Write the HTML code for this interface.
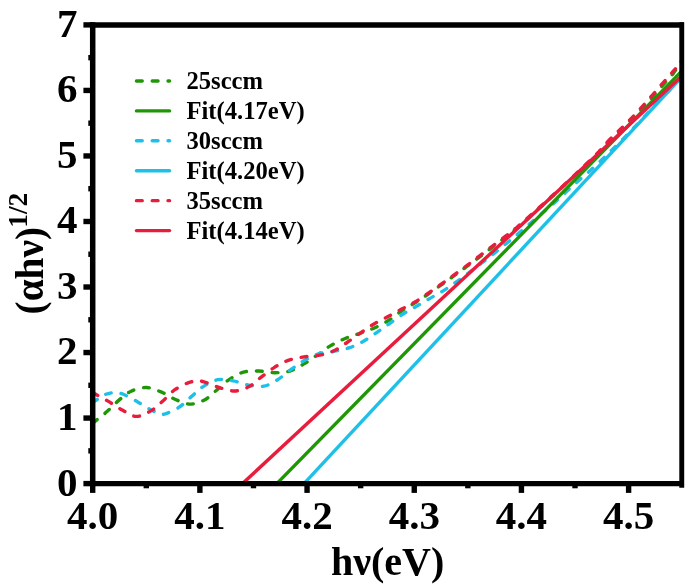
<!DOCTYPE html>
<html><head><meta charset="utf-8"><title>Tauc plot</title>
<style>
html,body{margin:0;padding:0;background:#fff;}
body{width:685px;height:586px;overflow:hidden;position:relative;font-family:"Liberation Serif",serif;}
</style></head><body>
<svg width="685" height="586" viewBox="0 0 685 586" style="position:absolute;left:0;top:0;will-change:transform">
<rect width="685" height="586" fill="#fff"/>
<defs><clipPath id="cp"><rect x="92.7" y="24.9" width="589.5" height="458.70000000000005"/></clipPath></defs>
<g clip-path="url(#cp)" fill="none">
<path d="M92.60 423.20C93.05 422.85 92.90 423.03 95.30 421.10C97.70 419.17 103.10 415.05 107.00 411.60C110.90 408.15 114.68 403.80 118.70 400.40C122.72 397.00 126.48 393.35 131.10 391.20C135.72 389.05 141.42 387.38 146.40 387.50C151.38 387.62 156.25 389.95 161.00 391.90C165.75 393.85 170.17 397.17 174.90 399.20C179.63 401.23 184.55 403.93 189.40 404.10C194.25 404.27 199.62 402.38 204.00 400.20C208.38 398.02 211.68 394.32 215.70 391.00C219.72 387.68 223.60 383.40 228.10 380.30C232.60 377.20 237.60 373.95 242.70 372.40C247.80 370.85 253.35 370.95 258.70 371.00C264.05 371.05 269.60 372.70 274.80 372.70C280.00 372.70 285.05 372.47 289.90 371.00C294.75 369.53 299.38 366.53 303.90 363.90C308.42 361.27 312.53 358.25 317.00 355.20C321.47 352.15 326.02 348.38 330.70 345.60C335.38 342.82 340.22 340.55 345.10 338.50C349.98 336.45 355.03 335.10 360.00 333.30C364.97 331.50 370.15 329.83 374.90 327.70C379.65 325.57 384.05 323.28 388.50 320.50C392.95 317.72 397.18 313.95 401.60 311.00C406.02 308.05 410.55 305.63 415.00 302.80C419.45 299.97 423.87 297.02 428.30 294.00C432.73 290.98 437.28 287.77 441.60 284.70C445.92 281.63 449.95 278.68 454.20 275.60C458.45 272.52 462.80 269.37 467.10 266.20C471.40 263.03 475.77 259.78 480.00 256.60C484.23 253.42 488.28 250.30 492.50 247.10C496.72 243.90 501.12 240.63 505.30 237.40C509.48 234.17 510.98 233.43 517.60 227.70C524.22 221.97 535.93 211.25 545.00 203.00C554.07 194.75 567.50 182.33 572.00 178.20" stroke="#1f9605" stroke-width="3.4" stroke-dasharray="5.8 9.98" stroke-linecap="round"/>
<path d="M572.00 178.20C576.45 173.93 592.37 158.83 598.70 152.60C605.03 146.37 606.25 144.53 610.00 140.80C613.75 137.07 617.53 133.73 621.20 130.20C624.87 126.67 628.42 123.27 632.00 119.60C635.58 115.93 639.22 112.03 642.70 108.20C646.18 104.37 649.50 100.47 652.90 96.60C656.30 92.73 659.70 88.87 663.10 85.00C666.50 81.13 670.12 77.60 673.30 73.40C676.48 69.20 680.72 62.07 682.20 59.80" stroke="#1f9605" stroke-width="3.4" stroke-dasharray="5.8 9.98" stroke-dashoffset="13.60" stroke-linecap="round"/>
<path d="M92.70 402.60C93.33 402.17 95.20 400.90 96.50 400.00C97.80 399.10 99.08 398.10 100.50 397.20C101.92 396.30 103.53 395.25 105.00 394.60C106.47 393.95 107.47 393.63 109.30 393.30C111.13 392.97 113.58 392.40 116.00 392.60C118.42 392.80 120.32 393.03 123.80 394.50C127.28 395.97 132.53 398.92 136.90 401.40C141.27 403.88 146.15 407.37 150.00 409.40C153.85 411.43 157.33 412.90 160.00 413.60C162.67 414.30 162.80 414.67 166.00 413.60C169.20 412.53 174.93 410.07 179.20 407.20C183.47 404.33 187.60 399.83 191.60 396.40C195.60 392.97 198.83 389.38 203.20 386.60C207.57 383.82 212.80 380.67 217.80 379.70C222.80 378.73 228.08 379.90 233.20 380.80C238.32 381.70 243.40 384.20 248.50 385.10C253.60 386.00 258.95 387.10 263.80 386.20C268.65 385.30 273.10 382.45 277.60 379.70C282.10 376.95 286.57 372.77 290.80 369.70C295.03 366.63 298.48 363.92 303.00 361.30C307.52 358.68 312.63 355.68 317.90 354.00C323.17 352.32 329.33 352.25 334.60 351.20C339.87 350.15 344.68 349.37 349.50 347.70C354.32 346.03 359.03 343.68 363.50 341.20C367.97 338.72 372.07 335.67 376.30 332.80C380.53 329.93 384.50 327.10 388.90 324.00C393.30 320.90 398.17 317.12 402.70 314.20C407.23 311.28 411.65 309.08 416.10 306.50C420.55 303.92 424.90 301.30 429.40 298.70C433.90 296.10 438.67 293.67 443.10 290.90C447.53 288.13 451.68 285.13 456.00 282.10C460.32 279.07 464.70 275.88 469.00 272.70C473.30 269.52 477.62 266.23 481.80 263.00C485.98 259.77 490.02 256.55 494.10 253.30C498.18 250.05 502.30 246.75 506.30 243.50C510.30 240.25 514.15 237.13 518.10 233.80C522.05 230.47 526.02 226.92 530.00 223.50C533.98 220.08 538.03 216.68 542.00 213.30C545.97 209.92 549.80 206.73 553.80 203.20C557.80 199.67 561.93 195.82 566.00 192.10C570.07 188.38 574.13 184.52 578.20 180.90C582.27 177.28 586.38 174.00 590.40 170.40C594.42 166.80 598.62 162.80 602.30 159.30C605.98 155.80 609.08 152.75 612.50 149.40C615.92 146.05 619.55 142.47 622.80 139.20C626.05 135.93 627.47 134.55 632.00 129.80C636.53 125.05 641.63 119.62 650.00 110.70C658.37 101.78 676.83 82.03 682.20 76.30" stroke="#1fc0e8" stroke-width="3.4" stroke-dasharray="5.8 9.98" stroke-dashoffset="0.3" stroke-linecap="round" stroke-linejoin="round"/>
<path d="M92.60 392.80C93.05 393.02 92.67 392.67 95.30 394.10C97.93 395.53 103.90 398.73 108.40 401.40C112.90 404.07 117.67 407.60 122.30 410.10C126.93 412.60 131.45 416.27 136.20 416.40C140.95 416.53 146.30 413.52 150.80 410.90C155.30 408.28 159.18 404.23 163.20 400.70C167.22 397.17 170.67 392.72 174.90 389.70C179.13 386.68 184.75 384.00 188.60 382.60C192.45 381.20 195.43 381.43 198.00 381.30C200.57 381.17 200.57 380.80 204.00 381.80C207.43 382.80 213.50 385.77 218.60 387.30C223.70 388.83 229.50 391.12 234.60 391.00C239.70 390.88 244.82 388.87 249.20 386.60C253.58 384.33 256.75 380.57 260.90 377.40C265.05 374.23 269.57 370.43 274.10 367.60C278.63 364.77 283.13 362.18 288.10 360.40C293.07 358.62 298.63 357.77 303.90 356.90C309.17 356.03 314.58 356.27 319.70 355.20C324.82 354.13 329.93 352.70 334.60 350.50C339.27 348.30 343.38 344.93 347.70 342.00C352.02 339.07 356.12 335.90 360.50 332.90C364.88 329.90 369.42 326.72 374.00 324.00C378.58 321.28 383.40 319.08 388.00 316.60C392.60 314.12 397.10 311.53 401.60 309.10C406.10 306.67 410.55 304.65 415.00 302.00C419.45 299.35 423.87 296.22 428.30 293.20C432.73 290.18 437.28 286.97 441.60 283.90C445.92 280.83 449.95 277.88 454.20 274.80C458.45 271.72 462.80 268.60 467.10 265.40C471.40 262.20 475.77 258.82 480.00 255.60C484.23 252.38 488.28 249.30 492.50 246.10C496.72 242.90 501.12 239.63 505.30 236.40C509.48 233.17 510.98 232.37 517.60 226.70C524.22 221.03 535.93 210.58 545.00 202.40C554.07 194.22 563.05 186.02 572.00 177.60C580.95 169.18 592.37 158.30 598.70 151.90C605.03 145.50 606.25 143.12 610.00 139.20C613.75 135.28 617.53 131.98 621.20 128.40C624.87 124.82 628.42 121.40 632.00 117.70C635.58 114.00 639.22 110.07 642.70 106.20C646.18 102.33 649.50 98.40 652.90 94.50C656.30 90.60 659.70 86.68 663.10 82.80C666.50 78.92 670.12 74.83 673.30 71.20C676.48 67.57 680.72 62.70 682.20 61.00" stroke="#e81c3c" stroke-width="3.4" stroke-dasharray="5.8 9.98" stroke-dashoffset="0" stroke-linecap="round" stroke-linejoin="round"/>
<line x1="276.80" y1="483.60" x2="682.20" y2="70.66" stroke="#1f9605" stroke-width="3.4" stroke-linecap="butt"/>
<line x1="304.00" y1="483.60" x2="682.20" y2="76.58" stroke="#1fc0e8" stroke-width="3.4" stroke-linecap="butt"/>
<line x1="242.50" y1="483.60" x2="682.20" y2="75.78" stroke="#e81c3c" stroke-width="3.4" stroke-linecap="butt"/>
</g>
<g stroke="#000" stroke-width="5.5" fill="none" stroke-linecap="butt">
<line x1="89.95" y1="24.9" x2="684.00" y2="24.9"/>
<line x1="89.95" y1="483.6" x2="684.00" y2="483.6" stroke-width="5.3"/>
<line x1="92.7" y1="22.15" x2="92.7" y2="486.35"/>
<line x1="681.75" y1="22.15" x2="681.75" y2="487.8" stroke-width="4.9"/>
</g>
<g stroke="#000" stroke-width="5.4" fill="none">
<line x1="83.4" y1="483.60" x2="92.7" y2="483.60"/>
<line x1="83.4" y1="418.07" x2="92.7" y2="418.07"/>
<line x1="83.4" y1="352.54" x2="92.7" y2="352.54"/>
<line x1="83.4" y1="287.01" x2="92.7" y2="287.01"/>
<line x1="83.4" y1="221.49" x2="92.7" y2="221.49"/>
<line x1="83.4" y1="155.96" x2="92.7" y2="155.96"/>
<line x1="83.4" y1="90.43" x2="92.7" y2="90.43"/>
<line x1="83.4" y1="24.90" x2="92.7" y2="24.90"/>
<line x1="88.3" y1="450.84" x2="92.7" y2="450.84"/>
<line x1="88.3" y1="385.31" x2="92.7" y2="385.31"/>
<line x1="88.3" y1="319.78" x2="92.7" y2="319.78"/>
<line x1="88.3" y1="254.25" x2="92.7" y2="254.25"/>
<line x1="88.3" y1="188.72" x2="92.7" y2="188.72"/>
<line x1="88.3" y1="123.19" x2="92.7" y2="123.19"/>
<line x1="88.3" y1="57.66" x2="92.7" y2="57.66"/>
<line x1="92.70" y1="483.6" x2="92.70" y2="492.9"/>
<line x1="199.88" y1="483.6" x2="199.88" y2="492.9"/>
<line x1="307.06" y1="483.6" x2="307.06" y2="492.9"/>
<line x1="414.25" y1="483.6" x2="414.25" y2="492.9"/>
<line x1="521.43" y1="483.6" x2="521.43" y2="492.9"/>
<line x1="628.61" y1="483.6" x2="628.61" y2="492.9"/>
<line x1="146.29" y1="483.6" x2="146.29" y2="488.3"/>
<line x1="253.47" y1="483.6" x2="253.47" y2="488.3"/>
<line x1="360.65" y1="483.6" x2="360.65" y2="488.3"/>
<line x1="467.84" y1="483.6" x2="467.84" y2="488.3"/>
<line x1="575.02" y1="483.6" x2="575.02" y2="488.3"/>
</g>
<g font-family="Liberation Serif, serif" font-weight="bold" font-size="41px" fill="#000">
<text x="77.5" y="495.50" text-anchor="end">0</text>
<text x="77.5" y="429.97" text-anchor="end">1</text>
<text x="77.5" y="364.44" text-anchor="end">2</text>
<text x="77.5" y="298.91" text-anchor="end">3</text>
<text x="77.5" y="233.39" text-anchor="end">4</text>
<text x="77.5" y="167.86" text-anchor="end">5</text>
<text x="77.5" y="102.33" text-anchor="end">6</text>
<text x="77.5" y="36.80" text-anchor="end">7</text>
<text x="92.70" y="529.4" text-anchor="middle">4.0</text>
<text x="199.88" y="529.4" text-anchor="middle">4.1</text>
<text x="307.06" y="529.4" text-anchor="middle">4.2</text>
<text x="414.25" y="529.4" text-anchor="middle">4.3</text>
<text x="521.43" y="529.4" text-anchor="middle">4.4</text>
<text x="628.61" y="529.4" text-anchor="middle">4.5</text>
<text x="387.6" y="574.9" text-anchor="middle" font-size="40px">hν(eV)</text>
<text transform="translate(43,314.4) rotate(-90)" font-size="39.3px">(αhν)<tspan font-size="27.5px" dy="-16.4" dx="-0.9">1/2</tspan></text>
</g>
<g font-family="Liberation Serif, serif" font-weight="bold" font-size="24.6px" fill="#000">
<line x1="136.45" y1="80.95" x2="169.55" y2="80.95" stroke="#1f9605" stroke-width="3.4" stroke-linecap="round" stroke-dasharray="5.8 9.98"/>
<text x="186.5" y="89.15">25sccm</text>
<line x1="136.45" y1="110.88" x2="169.55" y2="110.88" stroke="#1f9605" stroke-width="3.4" stroke-linecap="round"/>
<text x="186.5" y="119.08">Fit(4.17eV)</text>
<line x1="136.45" y1="140.81" x2="169.55" y2="140.81" stroke="#1fc0e8" stroke-width="3.4" stroke-linecap="round" stroke-dasharray="5.8 9.98"/>
<text x="186.5" y="149.01">30sccm</text>
<line x1="136.45" y1="170.74" x2="169.55" y2="170.74" stroke="#1fc0e8" stroke-width="3.4" stroke-linecap="round"/>
<text x="186.5" y="178.94">Fit(4.20eV)</text>
<line x1="136.45" y1="200.67" x2="169.55" y2="200.67" stroke="#e81c3c" stroke-width="3.4" stroke-linecap="round" stroke-dasharray="5.8 9.98"/>
<text x="186.5" y="208.87">35sccm</text>
<line x1="136.45" y1="230.60" x2="169.55" y2="230.60" stroke="#e81c3c" stroke-width="3.4" stroke-linecap="round"/>
<text x="186.5" y="238.80">Fit(4.14eV)</text>
</g>
</svg>
</body></html>
